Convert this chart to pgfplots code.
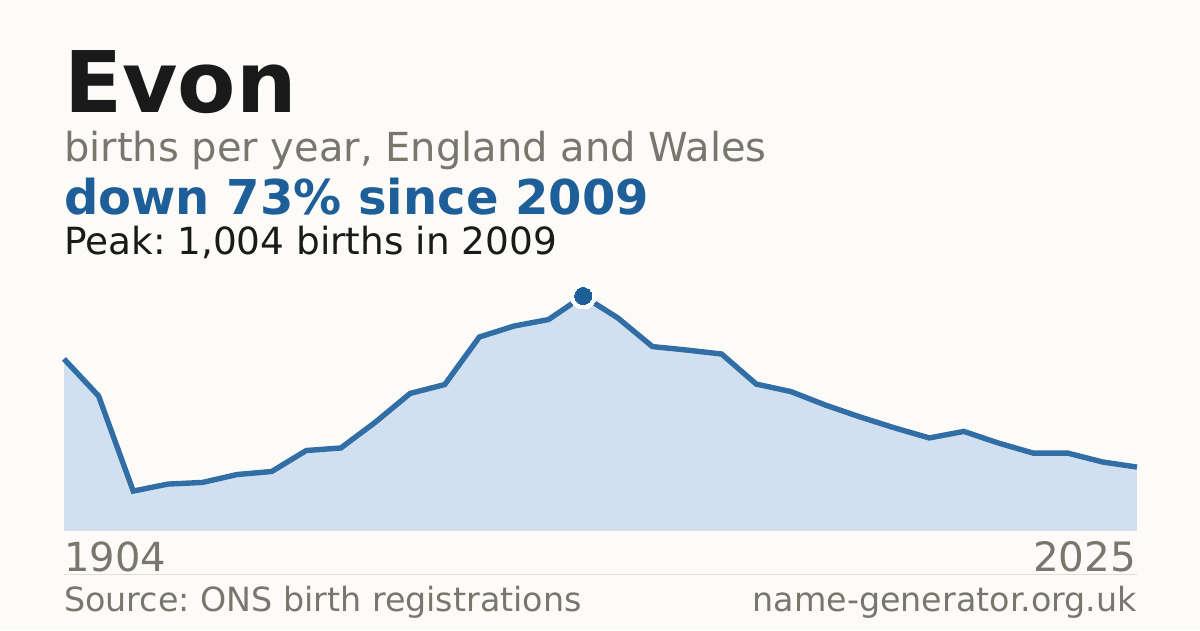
\documentclass[border=0pt]{standalone}
\usepackage{pgfplots}
\pgfplotsset{compat=1.18}
\usepackage{fontspec}
\setmainfont{DejaVu Sans}
\frenchspacing
\definecolor{bg}{HTML}{FCFBF7}
\definecolor{ink}{HTML}{1A1A1A}
\definecolor{mut}{HTML}{7A766E}
\definecolor{blu}{HTML}{1F5F99}
\definecolor{lineb}{HTML}{316EA5}
\definecolor{fil}{HTML}{D1E0F0}
\definecolor{rul}{HTML}{E2DED5}
\begin{document}
\begin{tikzpicture}[x=1pt,y=1pt]
\path[fill=bg] (0,0) rectangle (1200,630);
\begin{axis}[at={(64pt,100pt)},anchor=south west,scale only axis,width=1073pt,height=234pt,
  xmin=0,xmax=31,ymin=0,ymax=1004,hide axis,clip=false]
\addplot[draw=none,fill=fil] coordinates {(0,0)(0,734)(1,575)(2,167)(3,197)(4,204)(5,238)(6,251)(7,341)(8,352)(9,463)(10,586)(11,624)(12,828)(13,875)(14,903)(15,1004)(16,910)(17,787)(18,772)(19,755)(20,626)(21,594)(22,536)(23,485)(24,438)(25,395)(26,423)(27,373)(28,330)(29,330)(30,292)(31,270)(31,0)} --cycle;
\addplot[rul,line width=1pt] coordinates {(0,0)(31,0)};
\addplot[lineb,line width=5.4pt,line join=miter,line cap=butt] coordinates {(0,734)(1,575)(2,167)(3,197)(4,204)(5,238)(6,251)(7,341)(8,352)(9,463)(10,586)(11,624)(12,828)(13,875)(14,903)(15,1004)(16,910)(17,787)(18,772)(19,755)(20,626)(21,594)(22,536)(23,485)(24,438)(25,395)(26,423)(27,373)(28,330)(29,330)(30,292)(31,270)};
\addplot[white,only marks,mark=*,mark size=13pt,mark options={fill=white,draw=white,line width=0pt}] coordinates {(15,1004)};
\addplot[blu,only marks,mark=*,mark size=8.5pt,mark options={fill=blu,draw=blu,line width=0pt}] coordinates {(15,1004)};
\end{axis}
\draw[rul,line width=1pt] (64,56) -- (1137,56);
\node[anchor=base west,inner sep=0pt,text=ink,font=\fontsize{85}{85}\selectfont\bfseries] at (64,517) {Evon};
\node[anchor=base west,inner sep=0pt,text=mut,font=\fontsize{40}{40}\selectfont] at (64,468) {births per year, England and Wales};
\node[anchor=base west,inner sep=0pt,text=blu,font=\fontsize{48}{48}\selectfont\bfseries] at (64,415) {down 73\% since 2009};
\node[anchor=base west,inner sep=0pt,text=ink,font=\fontsize{37.4}{37.4}\selectfont] at (64,375) {Peak: 1,004 births in 2009};
\node[anchor=base west,inner sep=0pt,text=mut,font=\fontsize{40}{40}\selectfont] at (64,59) {1904};
\node[anchor=base east,inner sep=0pt,text=mut,font=\fontsize{40.5}{40.5}\selectfont] at (1136.5,59) {2025};
\node[anchor=base west,inner sep=0pt,text=mut,font=\fontsize{33.3}{33.3}\selectfont] at (64,19) {Source: ONS birth registrations};
\node[anchor=base east,inner sep=0pt,text=mut,font=\fontsize{33.3}{33.3}\selectfont] at (1137,19) {name-generator.org.uk};
\end{tikzpicture}
\end{document}
